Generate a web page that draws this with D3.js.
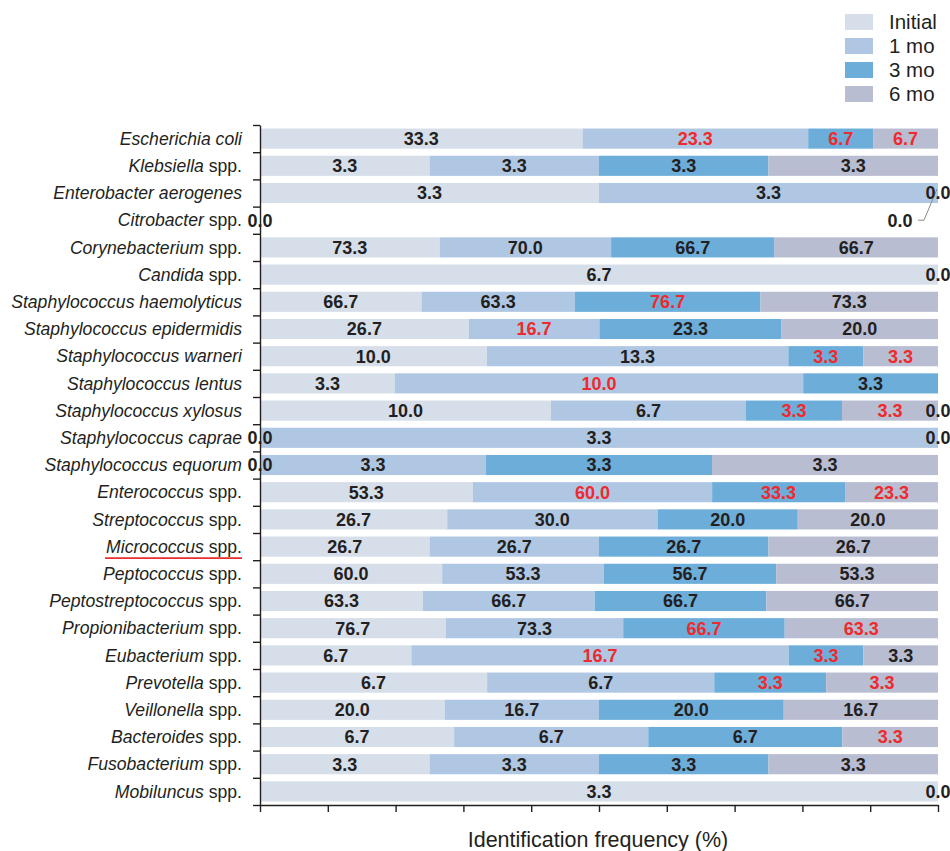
<!DOCTYPE html>
<html>
<head>
<meta charset="utf-8">
<script src="https://cdn.jsdelivr.net/npm/d3@7"></script>
<style>
  body { margin: 0; background: #fff; }
  svg { font-family: "Liberation Sans", Arial, sans-serif; }
</style>
</head>
<body>
<svg id="chart" width="950" height="851"></svg>
<script>
// categories, top to bottom
var categories = [
  "Escherichia coli", "Klebsiella spp.", "Enterobacter aerogenes", "Citrobacter spp.",
  "Corynebacterium spp.", "Candida spp.", "Staphylococcus haemolyticus",
  "Staphylococcus epidermidis", "Staphylococcus warneri", "Staphylococcus lentus",
  "Staphylococcus xylosus", "Staphylococcus caprae", "Staphylococcus equorum",
  "Enterococcus spp.", "Streptococcus spp.", "Micrococcus spp.", "Peptococcus spp.",
  "Peptostreptococcus spp.", "Propionibacterium spp.", "Eubacterium spp.",
  "Prevotella spp.", "Veillonella spp.", "Bacteroides spp.", "Fusobacterium spp.",
  "Mobiluncus spp."
];
var seriesNames = ["Initial", "1 mo", "3 mo", "6 mo"];

var initial = [33.3, 3.3, 3.3, 0, 73.3, 6.7, 66.7, 26.7, 10.0, 3.3, 10.0, 0, 0, 53.3, 26.7, 26.7, 60.0, 63.3, 76.7, 6.7, 6.7, 20.0, 6.7, 3.3, 3.3];
var mo1     = [23.3, 3.3, 3.3, 0, 70.0, 0, 63.3, 16.7, 13.3, 10.0, 6.7, 3.3, 3.3, 60.0, 30.0, 26.7, 53.3, 66.7, 73.3, 16.7, 6.7, 16.7, 6.7, 3.3, 0];
var mo3     = [6.7, 3.3, 0, 0, 66.7, 0, 76.7, 23.3, 3.3, 3.3, 3.3, 0, 3.3, 33.3, 20.0, 26.7, 56.7, 66.7, 66.7, 3.3, 3.3, 20.0, 6.7, 3.3, 0];
var mo6     = [6.7, 3.3, 0, 0, 66.7, 0, 73.3, 20.0, 3.3, 0, 3.3, 0, 3.3, 23.3, 20.0, 26.7, 53.3, 66.7, 63.3, 3.3, 3.3, 16.7, 3.3, 3.3, 0];

// values printed in red (changed significantly)
var red1 = ["Escherichia coli", "Staphylococcus epidermidis", "Staphylococcus lentus", "Enterococcus spp.", "Eubacterium spp."];
var red3 = ["Escherichia coli", "Staphylococcus haemolyticus", "Staphylococcus warneri", "Staphylococcus xylosus",
            "Enterococcus spp.", "Propionibacterium spp.", "Eubacterium spp.", "Prevotella spp."];
var red6 = ["Escherichia coli", "Staphylococcus warneri", "Staphylococcus xylosus", "Enterococcus spp.",
            "Propionibacterium spp.", "Prevotella spp.", "Bacteroides spp."];
var redLists = [[], red1, red3, red6];

// quirks of the original labels
var zeroLabelHidden = ["Staphylococcus lentus"];
var extraEndZero = ["Staphylococcus xylosus"];
var calloutRow = "Enterobacter aerogenes";
var underlined = "Micrococcus spp.";

var colors = ["#d6deea", "#afc7e2", "#6cadd9", "#b8bdd1"];
var ink = "#231f20", redInk = "#ee2a2f";

var rows = categories.map(function(c, i) {
  return { name: c, "Initial": initial[i], "1 mo": mo1[i], "3 mo": mo3[i], "6 mo": mo6[i] };
});
var stack = d3.stack().keys(seriesNames).offset(d3.stackOffsetExpand);
var series = stack(rows);

var svg = d3.select("#chart");
var plotLeft = 260, plotRight = 938, plotTop = 125, plotBottom = 805;

var x = d3.scaleLinear().domain([0, 1]).range([plotLeft, plotRight]);
var y = d3.scaleBand().domain(categories).range([plotTop, plotBottom]).paddingInner(0.26).paddingOuter(0.13);
var yIdx = d3.scaleLinear().domain([0, categories.length]).range([plotTop, plotBottom]);

// bars
svg.append("g").selectAll("g").data(series).join("g")
  .attr("fill", function(d, i) { return colors[i]; })
  .selectAll("rect").data(function(d) { return d; }).join("rect")
    .attr("x", function(d) { return x(d[0]); })
    .attr("width", function(d) { return x(d[1]) - x(d[0]); })
    .attr("y", function(d) { return y(d.data.name); })
    .attr("height", y.bandwidth());

// axes
svg.append("g").attr("transform", "translate(" + plotLeft + ",0)")
  .call(d3.axisLeft(yIdx).ticks(categories.length).tickFormat("").tickSizeInner(7).tickSizeOuter(0));
svg.append("g").attr("transform", "translate(0," + plotBottom + ")")
  .call(d3.axisBottom(x).ticks(10).tickFormat("").tickSizeInner(7).tickSizeOuter(0));
svg.selectAll(".domain, .tick line").attr("stroke", ink).attr("stroke-width", 1.4);

// category labels
var catLabels = svg.append("g").selectAll("text").data(categories).join("text")
  .attr("x", 242)
  .attr("y", function(d) { return y(d) + y.bandwidth() / 2; })
  .attr("dy", "0.35em")
  .attr("text-anchor", "end")
  .attr("font-size", 17.6)
  .attr("fill", ink);
catLabels.each(function(d) {
  var t = d3.select(this);
  var m = d.match(/^(.*) (spp\.)$/);
  if (m) {
    t.append("tspan").attr("font-style", "italic").text(m[1]);
    t.append("tspan").text(" " + m[2]);
  } else {
    t.append("tspan").attr("font-style", "italic").text(d);
  }
});
catLabels.filter(function(d) { return d === underlined; }).each(function(d) {
  var b = this.getBBox();
  var uy = y(d) + y.bandwidth() / 2 + 11.5;
  svg.append("line")
    .attr("x1", b.x - 1).attr("x2", b.x + b.width)
    .attr("y1", uy).attr("y2", uy)
    .attr("stroke", redInk).attr("stroke-width", 1.6);
});

// value labels
var labels = [];
series.forEach(function(s, si) {
  s.forEach(function(d) {
    var name = d.data.name, v = d.data[s.key];
    if (v === 0 && zeroLabelHidden.indexOf(name) >= 0) return;
    labels.push({
      name: name, text: v.toFixed(1),
      cx: x((d[0] + d[1]) / 2), cy: y(name) + y.bandwidth() / 2,
      red: redLists[si].indexOf(name) >= 0, zero: v === 0
    });
  });
});
extraEndZero.forEach(function(name) {
  labels.push({ name: name, text: "0.0", cx: x(1), cy: y(name) + y.bandwidth() / 2, red: false, zero: true });
});
// second zero of the callout row is moved down with a leader line
var calloutZeros = labels.filter(function(l) { return l.name === calloutRow && l.zero; });
if (calloutZeros.length > 1) {
  var c = calloutZeros[1];
  var nextRow = categories[categories.indexOf(calloutRow) + 1];
  var ly = y(nextRow) + y.bandwidth() / 2;
  c.cx = x(1) - 38; c.cy = ly;
  svg.append("polyline")
    .attr("points", [[x(1) - 20, ly], [x(1) - 14, ly], [x(1) - 1, y(calloutRow) + y.bandwidth() * 0.3]].join(" "))
    .attr("fill", "none").attr("stroke", "#8a8a8a").attr("stroke-width", 1);
}
// zero labels sharing one spot are printed once
var seen = {};
labels = labels.filter(function(l) {
  var key = Math.round(l.cx) + "," + Math.round(l.cy);
  if (seen[key]) return false;
  seen[key] = true;
  return true;
});

svg.append("g").selectAll("text").data(labels).join("text")
  .attr("x", function(d) { return d.cx; })
  .attr("y", function(d) { return d.cy; })
  .attr("dy", "0.36em")
  .attr("text-anchor", "middle")
  .attr("font-size", 18)
  .attr("font-weight", "bold")
  .attr("fill", function(d) { return d.red ? redInk : ink; })
  .text(function(d) { return d.text; });

// axis title
svg.append("text")
  .attr("x", 598).attr("y", 847)
  .attr("text-anchor", "middle")
  .attr("font-size", 21.5)
  .attr("fill", ink)
  .text("Identification frequency (%)");

// legend
var legend = svg.append("g").selectAll("g").data(seriesNames).join("g")
  .attr("transform", function(d, i) { return "translate(845," + (14 + i * 24) + ")"; });
legend.append("rect").attr("width", 28).attr("height", 16)
  .attr("fill", function(d, i) { return colors[i]; });
legend.append("text").attr("x", 44).attr("y", 8).attr("dy", "0.36em")
  .attr("font-size", 20.5).attr("fill", ink)
  .text(function(d) { return d; });
</script>
</body>
</html>
